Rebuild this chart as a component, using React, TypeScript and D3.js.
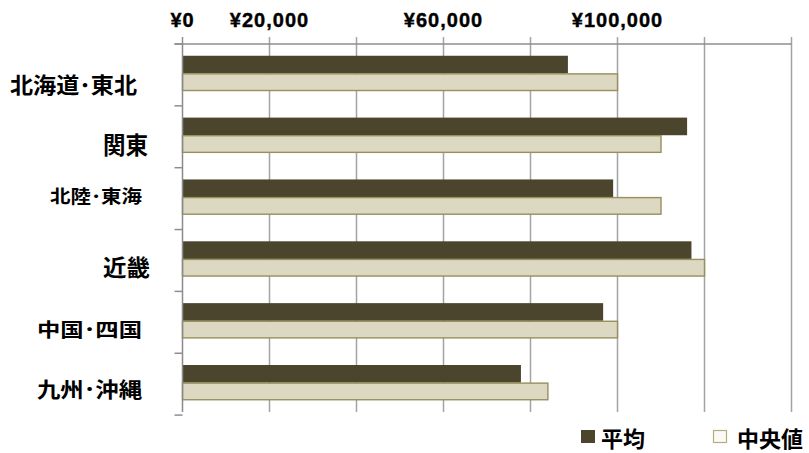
import React from 'react';
import * as d3 from 'd3';

// Regional monthly amounts: mean and median
const categories = ['北海道･東北', '関東', '北陸･東海', '近畿', '中国･四国', '九州･沖縄'];
const seriesNames = ['平均', '中央値'];
const averageValues = [88600, 116000, 99000, 117000, 96700, 77800];
const medianValues = [100000, 110000, 110000, 120000, 100000, 84000];
const tickValues = [0, 20000, 40000, 60000, 80000, 100000, 120000, 140000];
const labeledTicks = [0, 20000, 60000, 100000];

const W = 809;
const H = 453;
const plot = { left: 182.5, right: 791.5, top: 44, bottom: 412 };

const DARK = '#4B452D';
const LIGHT = '#DDD8C2';
const LIGHT_EDGE = '#978F5E';
const GRID = '#A3A3A3';
const JP = '"Noto Sans CJK JP", "Noto Sans", sans-serif';
const LATIN = '"Liberation Sans", Arial, sans-serif';

// category label placement (left edge, vertical centre, width, font size)
const labelLayout: Record<string, { x: number; y: number; w: number; size: number }> = {
  '北海道･東北': { x: 10, y: 83, w: 127, size: 22 },
  '関東': { x: 103, y: 143.5, w: 45, size: 24 },
  '北陸･東海': { x: 50, y: 194.5, w: 92, size: 18 },
  '近畿': { x: 103, y: 266, w: 47, size: 23 },
  '中国･四国': { x: 37, y: 328.5, w: 105, size: 19 },
  '九州･沖縄': { x: 37, y: 387.5, w: 105, size: 21 },
};

export default function App() {
  const x = d3.scaleLinear().domain([0, 140000]).range([plot.left, plot.right]);
  const y = d3
    .scaleBand<string>()
    .domain(categories)
    .range([plot.top, plot.bottom])
    .paddingInner(0.43)
    .paddingOuter(0.19);
  const sub = d3.scaleBand<string>().domain(seriesNames).range([0, y.bandwidth()]);
  const step = y.step();
  const boundaries = d3.range(categories.length + 1).map((i) => plot.top + i * step);
  const fmt = (v: number) => '¥' + d3.format(',')(v);

  const rows = categories.map((c, i) => ({ c, avg: averageValues[i], med: medianValues[i] }));

  return (
    <svg width={W} height={H} style={{ display: 'block', position: 'absolute', left: 0, top: 0 }}>
      <rect width={W} height={H} fill="#fff" />
      {/* vertical gridlines */}
      {tickValues.slice(1).map((t) => (
        <line key={'g' + t} x1={x(t)} x2={x(t)} y1={plot.top - 7} y2={plot.bottom} stroke={GRID} strokeWidth={1.5} />
      ))}
      {/* top axis */}
      <line x1={plot.left - 8} x2={x(140000)} y1={plot.top} y2={plot.top} stroke="#8E8E8E" strokeWidth={1.5} />
      <line x1={x(0)} x2={x(0)} y1={plot.top - 7} y2={plot.top} stroke="#8E8E8E" strokeWidth={1.5} />
      {labeledTicks.map((t) => (
        <text
          key={'t' + t}
          x={x(t)}
          y={27}
          textAnchor="middle"
          fontFamily={LATIN}
          fontWeight="bold"
          fontSize={20}
          letterSpacing={1}
          fill="#000"
          stroke="#000"
          strokeWidth={0.4}
        >
          {fmt(t)}
        </text>
      ))}
      {/* bars */}
      {rows.map((r) => (
        <g key={r.c} transform={`translate(0,${y(r.c)})`}>
          <rect x={x(0)} y={sub('平均')} width={x(r.avg) - x(0)} height={sub.bandwidth()} fill={DARK} />
          <rect
            x={x(0)}
            y={(sub('中央値') as number) + 0.5}
            width={x(r.med) - x(0)}
            height={sub.bandwidth() - 1}
            fill={LIGHT}
            stroke={LIGHT_EDGE}
            strokeWidth={1.4}
          />
        </g>
      ))}
      {/* left axis */}
      <line x1={x(0)} x2={x(0)} y1={plot.top} y2={plot.bottom} stroke="#8A8A8A" strokeWidth={1.5} />
      {boundaries.map((b, i) => (
        <line key={'b' + i} x1={plot.left - 8} x2={plot.left} y1={b} y2={b} stroke="#8E8E8E" strokeWidth={1.5} />
      ))}
      {categories.map((c) => {
        const l = labelLayout[c];
        return (
          <text
            key={'l' + c}
            x={l.x}
            y={l.y}
            dominantBaseline="central"
            fontFamily={JP}
            fontWeight="bold"
            fontSize={l.size}
            textLength={l.w}
            lengthAdjust="spacingAndGlyphs"
            fill="#000"
          >
            {c}
          </text>
        );
      })}
      {/* legend */}
      <rect x={581} y={430} width={14} height={13} fill={DARK} />
      <text x={601} y={437} dominantBaseline="central" fontFamily={JP} fontWeight="bold" fontSize={22} fill="#000">
        {seriesNames[0]}
      </text>
      <rect x={713.5} y={430.5} width={13} height={12} fill="#FBF9F2" stroke="#B5AD80" strokeWidth={1.2} />
      <text x={737} y={437} dominantBaseline="central" fontFamily={JP} fontWeight="bold" fontSize={22} fill="#000">
        {seriesNames[1]}
      </text>
    </svg>
  );
}
